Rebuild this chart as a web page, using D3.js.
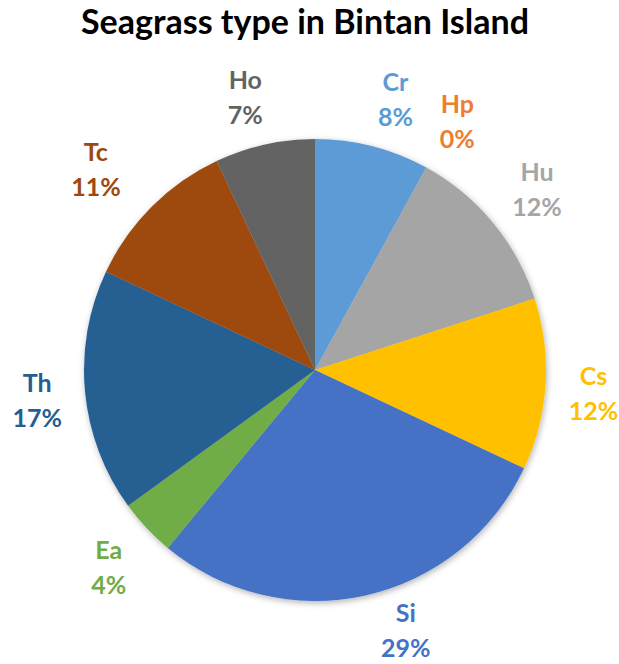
<!DOCTYPE html>
<html>
<head>
<meta charset="utf-8">
<script src="https://cdn.jsdelivr.net/npm/d3@7"></script>
<style>
  html, body { margin: 0; padding: 0; background: #ffffff; }
  svg { display: block; }
  text { font-family: Lato, "Open Sans", "DejaVu Sans", sans-serif; font-weight: bold; }
</style>
</head>
<body>
<svg id="chart" width="619" height="664"></svg>
<script>
// Seagrass species share, Bintan Island (percent)
const categories = ["Cr", "Hp", "Hu", "Cs", "Si", "Ea", "Th", "Tc", "Ho"];
const shares     = [8, 0, 12, 12, 29, 4, 17, 11, 7];
const colors     = ["#5B9BD5", "#ED7D31", "#A5A5A5", "#FFC000", "#4472C4",
                    "#70AD47", "#255E91", "#9E480E", "#636363"];
const title = "Seagrass type in Bintan Island";

// Layout
const width = 619, height = 664;
const cx = 315, cy = 370, radius = 231;
const labelRadius = 283;
const lineGap = 35;
// small best-fit shifts of the outside labels (px)
const labelNudge = {
  Cr: [10, 4], Hp: [6, -1], Hu: [4, 0], Cs: [-4, 6], Si: [29, -16],
  Ea: [0, 4], Th: [4, 4], Tc: [-19, 0], Ho: [-8, 4]
};

const svg = d3.select("#chart");

const defs = svg.append("defs");
const shadow = defs.append("filter")
  .attr("id", "pieShadow")
  .attr("x", "-10%").attr("y", "-10%")
  .attr("width", "120%").attr("height", "120%");
shadow.append("feDropShadow")
  .attr("dx", 1).attr("dy", 2)
  .attr("stdDeviation", 3)
  .attr("flood-color", "#000")
  .attr("flood-opacity", 0.3);

svg.append("text")
  .attr("x", 305).attr("y", 34)
  .attr("text-anchor", "middle")
  .attr("font-size", 34)
  .attr("fill", "#000")
  .text(title);

const data = categories.map((c, i) => ({ name: c, value: shares[i], color: colors[i] }));

const pie = d3.pie()
  .sort(null)
  .value(d => d.value);

const arcs = pie(data);

const arc = d3.arc().innerRadius(0).outerRadius(radius);
const labelArc = d3.arc().innerRadius(labelRadius).outerRadius(labelRadius);

const g = svg.append("g").attr("transform", `translate(${cx},${cy})`);

g.append("g")
  .attr("filter", "url(#pieShadow)")
  .selectAll("path")
  .data(arcs)
  .join("path")
  .attr("d", arc)
  .attr("fill", d => d.data.color);

const capHeight = 18;
const labels = g.append("g")
  .selectAll("text")
  .data(arcs)
  .join("text")
  .attr("text-anchor", "middle")
  .attr("font-size", 25)
  .attr("fill", d => d.data.color)
  .attr("transform", d => {
    const [x, y] = labelArc.centroid(d);
    const n = labelNudge[d.data.name] || [0, 0];
    const baseline = y + n[1] - (lineGap - capHeight) / 2;
    return `translate(${x + n[0]},${baseline})`;
  });

labels.append("tspan")
  .attr("x", 0).attr("y", 0)
  .text(d => d.data.name);

labels.append("tspan")
  .attr("x", 0).attr("y", lineGap)
  .text(d => d3.format(".0f")(d.data.value) + "%");
</script>
</body>
</html>
